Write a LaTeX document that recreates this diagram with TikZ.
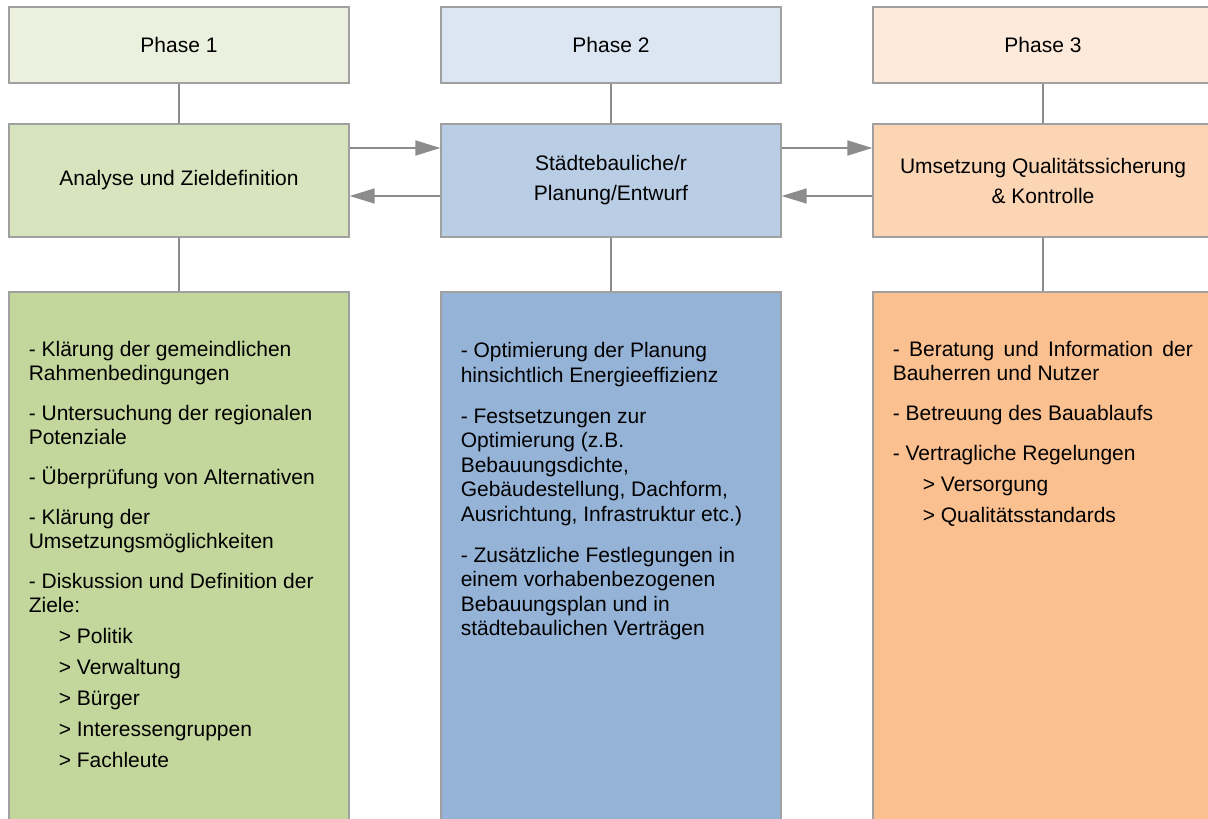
\documentclass[tikz,border=0pt]{standalone}
\usepackage{fontspec}
\setmainfont{Liberation Sans}
\usetikzlibrary{arrows.meta,positioning}

\definecolor{greenA}{HTML}{EBF1DE}
\definecolor{greenB}{HTML}{D7E4BD}
\definecolor{greenC}{HTML}{C3D69B}
\definecolor{blueA}{HTML}{DCE6F2}
\definecolor{blueB}{HTML}{B9CDE5}
\definecolor{blueC}{HTML}{95B3D7}
\definecolor{orangeA}{HTML}{FDEADA}
\definecolor{orangeB}{HTML}{FCD5B5}
\definecolor{orangeC}{HTML}{FAC090}
\definecolor{boxgray}{HTML}{A0A0A0}
\definecolor{linegray}{HTML}{8C8C8C}

\newcommand{\firstline}{\rule{0pt}{8pt}}

\begin{document}
\begin{tikzpicture}[x=0.5pt, y=-0.5pt, font=\fontsize{10.5}{12}\selectfont,
    box/.style={draw=boxgray, line width=0.6pt, minimum width=170pt, inner sep=0pt, align=center},
    phasebox/.style={box, minimum height=38pt},
    taskbox/.style={box, minimum height=56.5pt},
    listbox/.style={box, minimum height=304pt},
    items/.style={align=left, anchor=north west, inner sep=0pt},
    link/.style={draw=linegray, line width=0.6pt},
    arr/.style={linegray, line width=0.7pt, -{Triangle[length=12.5pt,width=7.5pt]}}]
    \useasboundingbox (0,0) rectangle (1208,818);
    \clip (0,0) rectangle (1208,818);

    \node (ph1) [phasebox, fill=greenA] at (179, 45) {Phase 1};
    \node (ph2) [phasebox, fill=blueA] at (611, 45) {Phase 2};
    \node (ph3) [phasebox, fill=orangeA] at (1043, 45) {Phase 3};

    \node (ana) [taskbox, fill=greenB] at (179, 180.5) {Analyse und Zieldefinition};
    \node (plan) [taskbox, fill=blueB] at (611, 180.5) {Städtebauliche/r\\[3pt]Planung/Entwurf};
    \node (ums) [taskbox, fill=orangeB] at (1043, 180.5) {Umsetzung Qualitätssicherung\\[3pt]\& Kontrolle};

    \node (li1) [listbox, fill=greenC] at (179, 596) {};
    \node (li2) [listbox, fill=blueC] at (611, 596) {};
    \node (li3) [listbox, fill=orangeC] at (1043, 596) {};

    \draw[link] (ph1) -- (ana);
    \draw[link] (ph2) -- (plan);
    \draw[link] (ph3) -- (ums);
    \draw[link] (ana) -- (li1);
    \draw[link] (plan) -- (li2);
    \draw[link] (ums) -- (li3);

    \draw[arr] ([yshift=16.25pt]ana.east) -- ([yshift=16.25pt]plan.west);
    \draw[arr] ([yshift=-7.75pt]plan.west) -- ([yshift=-7.75pt]ana.east);
    \draw[arr] ([yshift=16.25pt]plan.east) -- ([yshift=16.25pt]ums.west);
    \draw[arr] ([yshift=-7.75pt]ums.west) -- ([yshift=-7.75pt]plan.east);

    \node (t1) [items] at ([xshift=10pt, yshift=-24.5pt]li1.north west) {%
        \firstline- Klärung der gemeindlichen\\Rahmenbedingungen\\[8pt]
        - Untersuchung der regionalen\\Potenziale\\[8pt]
        - Überprüfung von Alternativen\\[8pt]
        - Klärung der\\Umsetzungsmöglichkeiten\\[8pt]
        - Diskussion und Definition der\\Ziele:\\[3.5pt]
        \hspace*{15pt}> Politik\\[3.5pt]
        \hspace*{15pt}> Verwaltung\\[3.5pt]
        \hspace*{15pt}> Bürger\\[3.5pt]
        \hspace*{15pt}> Interessengruppen\\[3.5pt]
        \hspace*{15pt}> Fachleute};
    \node (t2) [items, font=\fontsize{10.5}{12.3}\selectfont] at ([xshift=10pt, yshift=-25pt]li2.north west) {%
        \firstline- Optimierung der Planung\\hinsichtlich Energieeffizienz\\[8pt]
        - Festsetzungen zur\\Optimierung (z.B.\\Bebauungsdichte,\\Gebäudestellung, Dachform,\\Ausrichtung, Infrastruktur etc.)\\[8pt]
        - Zusätzliche Festlegungen in\\einem vorhabenbezogenen\\Bebauungsplan und in\\städtebaulichen Verträgen};
    \node (t3) [items] at ([xshift=10pt, yshift=-24.5pt]li3.north west) {%
        \firstline\makebox[150pt][s]{- Beratung und Information der}\\Bauherren und Nutzer\\[8pt]
        - Betreuung des Bauablaufs\\[8pt]
        - Vertragliche Regelungen\\[3.5pt]
        \hspace*{15pt}> Versorgung\\[3.5pt]
        \hspace*{15pt}> Qualitätsstandards};
\end{tikzpicture}
\end{document}
